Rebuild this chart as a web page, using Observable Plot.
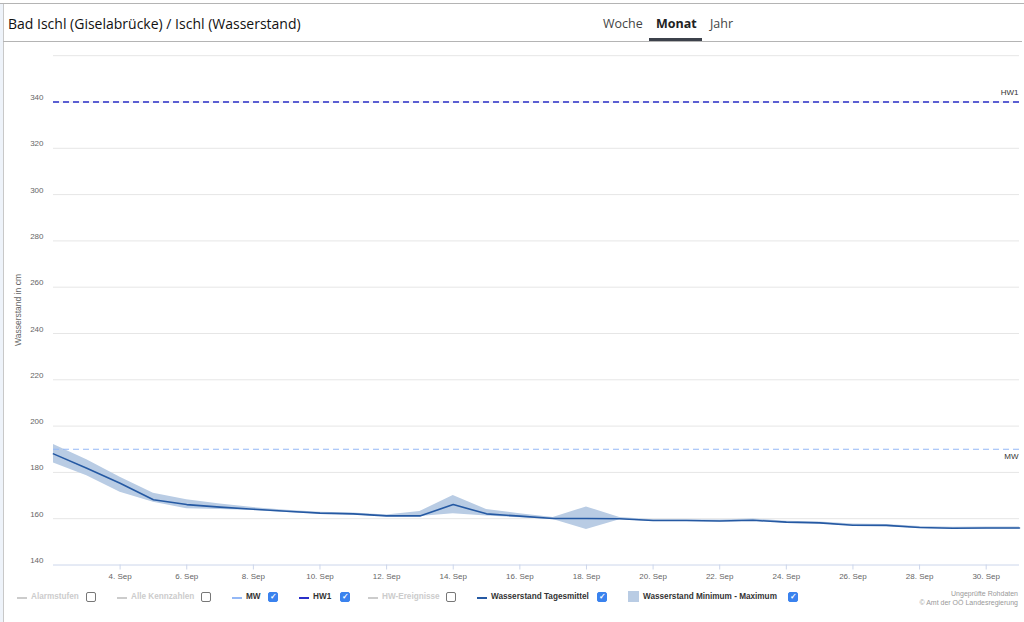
<!DOCTYPE html>
<html>
<head>
<meta charset="utf-8">
<script src="https://cdn.jsdelivr.net/npm/d3@7"></script>
<script src="https://cdn.jsdelivr.net/npm/@observablehq/plot@0.6"></script>
<style>
  html, body { margin: 0; padding: 0; background: #fff; width: 1024px; height: 622px; overflow: hidden; }
  body { position: relative; font-family: "Liberation Sans", Arial, sans-serif; }
  .abs { position: absolute; }
  #title { left: 8px; top: 14px; font-family: "Open Sans", sans-serif; font-size: 14px; color: #111; white-space: nowrap; }
  .tab { top: 15px; font-family: "Open Sans", sans-serif; font-size: 12.5px; color: #444; white-space: nowrap; }
  #chart { left: 0; top: 42px; }
  .leg { top: 591px; font-size: 8.2px; font-weight: bold; white-space: nowrap; line-height: 12px; }
  .sym { position: absolute; top: 597px; height: 1.5px; width: 10px; }
  .box { position: absolute; top: 592px; width: 8px; height: 8px; border-radius: 2px; }
  .box.off { border: 1px solid #777; background: #fff; }
  .box.on { border: 1px solid #3a82ee; background: #3a82ee; color: #fff; font-size: 8px; line-height: 8px; text-align: center; font-weight: bold; }
  .credit { right: 6px; font-size: 7px; color: #999999; text-align: right; white-space: nowrap; }
  #ytitle { left: 18px; top: 310px; font-size: 8.5px; color: #666; white-space: nowrap; transform: translate(-50%, -50%) rotate(-90deg); }
</style>
</head>
<body>
<script>
// ---- data ----
const dayDates = ["2024-09-02","2024-09-03","2024-09-04","2024-09-05","2024-09-06","2024-09-07","2024-09-08","2024-09-09","2024-09-10","2024-09-11","2024-09-12","2024-09-13","2024-09-14","2024-09-15","2024-09-16","2024-09-17","2024-09-18","2024-09-19","2024-09-20","2024-09-21","2024-09-22","2024-09-23","2024-09-24","2024-09-25","2024-09-26","2024-09-27","2024-09-28","2024-09-29","2024-09-30","2024-10-01"];
const dailyMean = [188.0,181.8,175.3,168.2,166.1,165.0,164.1,163.2,162.4,162.1,161.2,161.2,166.1,162.1,161.1,160.1,160.1,160.0,159.2,159.2,159.0,159.3,158.5,158.2,157.2,157.1,156.2,155.9,156.0,156.0];
const dailyMin  = [184.1,178.5,171.4,167.1,164.3,164.0,163.5,162.7,162.0,161.6,160.8,160.9,162.1,161.2,160.4,159.7,155.3,159.5,158.8,158.8,158.6,158.9,158.1,157.8,156.8,156.6,155.8,155.5,155.5,155.5];
const dailyMax  = [192.0,185.5,177.9,171.0,168.2,166.3,164.8,163.7,162.8,162.5,161.6,163.1,170.0,164.0,162.1,160.5,165.1,160.5,159.6,159.6,159.4,159.9,158.9,158.6,157.7,157.5,156.6,156.3,156.4,156.4];
const refNames = ["HW1", "MW"];
const refValues = [340, 190];
const yTickValues = [140,160,180,200,220,240,260,280,300,320,340];
const yGridValues = [160,180,200,220,240,260,280,300,320,340,360];
const xTickDates = ["2024-09-04","2024-09-06","2024-09-08","2024-09-10","2024-09-12","2024-09-14","2024-09-16","2024-09-18","2024-09-20","2024-09-22","2024-09-24","2024-09-26","2024-09-28","2024-09-30"];
const xDomain = ["2024-09-02","2024-10-01"];
const monthNames = ["Jan","Feb","Mär","Apr","Mai","Jun","Jul","Aug","Sep","Okt","Nov","Dez"];

const parse = s => new Date(s + "T00:00:00Z");
const rows = dayDates.map((d, i) => ({date: parse(d), mean: dailyMean[i], min: dailyMin[i], max: dailyMax[i]}));
const refs = refNames.map((n, i) => ({name: n, value: refValues[i]}));
const fmt = d => `${d.getUTCDate()}. ${monthNames[d.getUTCMonth()]}`;
const xEnd = parse(xDomain[1]);

const chart = Plot.plot({
  width: 1024,
  height: 548,
  marginLeft: 53,
  marginRight: 5,
  marginTop: 13.2,
  marginBottom: 25.5,
  style: {fontFamily: "'Liberation Sans', Arial, sans-serif", fontSize: "8px", background: "transparent", color: "#666"},
  x: {type: "utc", domain: xDomain.map(parse)},
  y: {domain: [140, 360]},
  marks: [
    Plot.ruleY(yGridValues, {stroke: "#e6e6e6", strokeWidth: 1}),
    Plot.areaY(rows, {x: "date", y1: "min", y2: "max", fill: "#b9cce4", curve: "linear"}),
    Plot.lineY(rows, {x: "date", y: "mean", stroke: "#2559a3", strokeWidth: 1.6}),
    Plot.ruleY(refs.filter(r => r.name === "MW"), {y: "value", stroke: "#94b8f6", strokeWidth: 1.2, strokeDasharray: "6,4"}),
    Plot.ruleY(refs.filter(r => r.name === "HW1"), {y: "value", stroke: "#2a2fc8", strokeWidth: 1.5, strokeDasharray: "6,4"}),
    Plot.text(refs.filter(r => r.name === "HW1"), {x: () => xEnd, y: "value", text: "name", textAnchor: "end", dx: -1, dy: -9.5, fill: "#333", fontSize: 8}),
    Plot.text(refs.filter(r => r.name === "MW"), {x: () => xEnd, y: "value", text: "name", textAnchor: "end", dx: -1, dy: 7, fill: "#333", fontSize: 8}),
    Plot.ruleY([140], {stroke: "#ccd6eb", strokeWidth: 1}),
    Plot.axisX({ticks: xTickDates.map(parse), tickFormat: fmt, tickSize: 5, tickPadding: 3, stroke: "#ccd6eb", fill: "#666", label: null}),
    Plot.axisY({ticks: yTickValues, tickSize: 0, tickPadding: 10, dy: -4.5, fill: "#666", label: null})
  ]
});
chart.id = "chart";
chart.classList.add("abs");
document.body.appendChild(chart);

// ---- page chrome ----
function el(cls, html, css) {
  const d = document.createElement("div");
  d.className = cls;
  d.innerHTML = html;
  Object.assign(d.style, css || {});
  document.body.appendChild(d);
  return d;
}
el("abs", "", {left: "0", top: "3px", width: "1024px", height: "1px", background: "#b4b4b4"});
el("abs", "", {left: "0", top: "4px", width: "3px", height: "618px", background: "#eef3fa"});
el("abs", "", {left: "3px", top: "4px", width: "1px", height: "618px", background: "#c8c8c8"});
el("abs", "", {left: "3px", top: "41px", width: "1019px", height: "1px", background: "#b4b4b4"});
const title = el("abs", "Bad Ischl (Giselabrücke) / Ischl (Wasserstand)");
title.id = "title";
const tabNames = ["Woche", "Monat", "Jahr"];
const tabX = [603, 656, 710];
tabNames.forEach((t, i) => {
  const d = el("abs tab", t, {left: tabX[i] + "px"});
  if (t === "Monat") { d.style.fontWeight = "bold"; d.style.color = "#222"; }
});
el("abs", "", {left: "649px", top: "38px", width: "53px", height: "3px", background: "#3c414b"});
const yt = el("abs", "Wasserstand in cm");
yt.id = "ytitle";

// legend
const legendItems = [
  {name: "Alarmstufen", x: 17, color: "#cccccc", on: false, kind: "line"},
  {name: "Alle Kennzahlen", x: 117, color: "#cccccc", on: false, kind: "line"},
  {name: "MW", x: 232, color: "#94b8f6", on: true, kind: "line"},
  {name: "HW1", x: 299, color: "#2a2fc8", on: true, kind: "line"},
  {name: "HW-Ereignisse", x: 368, color: "#cccccc", on: false, kind: "line"},
  {name: "Wasserstand Tagesmittel", x: 477, color: "#2559a3", on: true, kind: "line"},
  {name: "Wasserstand Minimum - Maximum", x: 628, color: "#b9cce4", on: true, kind: "area"}
];
const boxX = [86, 201, 268, 340, 446, 597, 788];
legendItems.forEach((it, i) => {
  if (it.kind === "line") {
    el("sym", "", {left: it.x + "px", background: it.color});
  } else {
    el("abs", "", {left: it.x + "px", top: "591px", width: "11px", height: "11px", background: it.color});
  }
  const textX = it.kind === "line" ? it.x + 14 : it.x + 15;
  el("abs leg", it.name, {left: textX + "px", color: it.on ? "#333" : "#cccccc"});
  el("box " + (it.on ? "on" : "off"), it.on ? "✓" : "", {left: boxX[i] + "px"});
});
el("abs credit", "Ungeprüfte Rohdaten", {top: "590px"});
el("abs credit", "© Amt der OÖ Landesregierung", {top: "599px"});
</script>
</body>
</html>
